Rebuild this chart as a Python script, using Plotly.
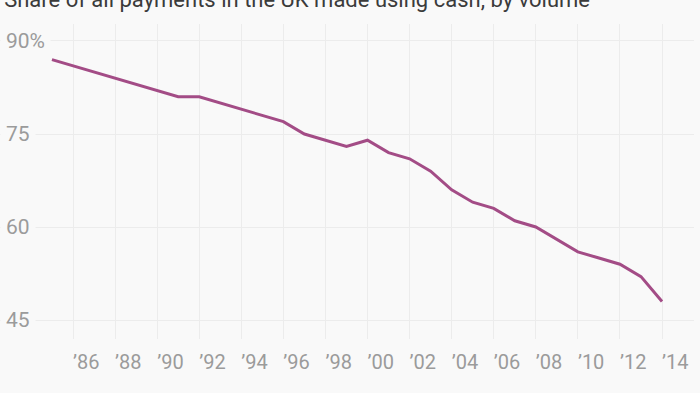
import plotly.graph_objects as go

title_text = "Share of all payments in the UK made using cash, by volume"
years = list(range(1985, 2015))
cash_share = [87, 86, 85, 84, 83, 82, 81, 81, 80, 79, 78, 77, 75, 74, 73, 74,
              72, 71, 69, 66, 64, 63, 61, 60, 58, 56, 55, 54, 52, 48]
x_tick_vals = list(range(1986, 2015, 2))
x_tick_text = ["\u2019" + str(y)[2:] for y in x_tick_vals]
y_tick_vals = [45, 60, 75, 90]
y_tick_text = ["45", "60", "75", "90%"]

BG = "#f9f9f9"
GRID = "#ececec"
LABEL = "#9b9b9b"
FONT = "Roboto"

fig = go.Figure()
fig.add_trace(go.Scatter(
    x=years, y=cash_share, mode="lines",
    line=dict(color="#a34c86", width=3),
    hoverinfo="skip", showlegend=False,
))

for v, t in zip(y_tick_vals, y_tick_text):
    fig.add_annotation(
        x=0, xref="paper", y=v, yref="y", text=t, showarrow=False,
        xanchor="left", yanchor="middle", bgcolor=BG, borderpad=5,
        font=dict(family=FONT, size=21, color=LABEL),
    )

fig.update_layout(
    width=700, height=393,
    margin=dict(l=0, r=0, t=0, b=0),
    paper_bgcolor=BG, plot_bgcolor=BG,
    title=dict(text=title_text, x=0.006, xanchor="left",
               y=1 - 7 / 393, yanchor="bottom", yref="container",
               font=dict(family=FONT, size=22, color="#3b3b3b")),
    xaxis=dict(
        domain=[0, 694 / 700], range=[1982.53, 2015.52],
        tickvals=x_tick_vals, ticktext=x_tick_text,
        ticklabelposition="outside right", ticklabelstandoff=9,
        tickfont=dict(family=FONT, size=20, color=LABEL),
        showgrid=True, gridcolor=GRID, gridwidth=1,
        zeroline=False, showline=False, ticks="", ticklen=0,
    ),
    yaxis=dict(
        domain=[1 - 339 / 393, 1 - 24 / 393], range=[41.94, 92.74],
        tickvals=y_tick_vals, showticklabels=False,
        showgrid=True, gridcolor=GRID, gridwidth=1,
        zeroline=False, showline=False, ticks="",
    ),
)

fig.write_html("out.html", config={"displayModeBar": False},
               post_script="document.body.style.margin='0';")
